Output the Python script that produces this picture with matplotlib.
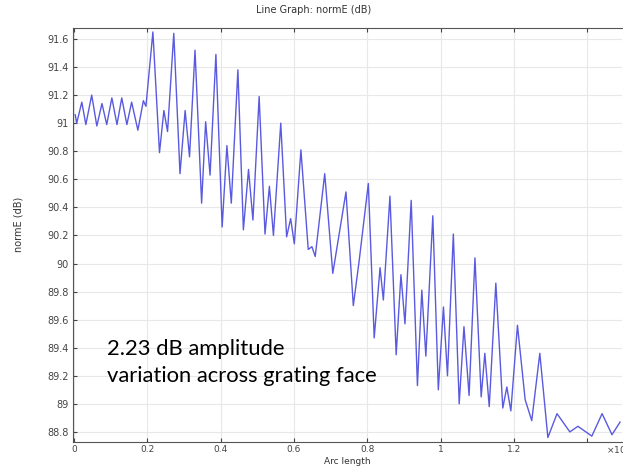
import matplotlib
matplotlib.use("Agg")
import matplotlib.pyplot as plt

# extrema (arc length, normE in dB)
arc_length = [0.003, 0.007, 0.021, 0.032, 0.048, 0.062, 0.076, 0.089, 0.103, 0.117,
              0.130, 0.144, 0.157, 0.174, 0.189, 0.196, 0.215, 0.233, 0.245, 0.255,
              0.272, 0.289, 0.303, 0.315, 0.330, 0.348, 0.359, 0.371, 0.387, 0.404,
              0.417, 0.429, 0.447, 0.462, 0.476, 0.488, 0.505, 0.521, 0.533, 0.544,
              0.564, 0.580, 0.591, 0.601, 0.619, 0.639, 0.649, 0.658, 0.684, 0.706,
              0.742, 0.762, 0.778, 0.803, 0.819, 0.835, 0.844, 0.862, 0.879, 0.892,
              0.903, 0.920, 0.937, 0.949, 0.960, 0.979, 0.994, 1.008, 1.019, 1.035,
              1.051, 1.064, 1.078, 1.094, 1.111, 1.121, 1.133, 1.151, 1.170, 1.181,
              1.192, 1.210, 1.231, 1.249, 1.271, 1.293, 1.318, 1.353, 1.375, 1.413,
              1.441, 1.468, 1.490]
norm_e = [91.06, 91.00, 91.15, 90.99, 91.20, 90.98, 91.14, 90.99, 91.18, 90.99,
          91.18, 90.99, 91.15, 90.95, 91.16, 91.12, 91.65, 90.79, 91.09, 90.94,
          91.64, 90.64, 91.09, 90.76, 91.52, 90.43, 91.01, 90.63, 91.49, 90.26,
          90.84, 90.43, 91.38, 90.24, 90.67, 90.31, 91.19, 90.21, 90.55, 90.20,
          91.00, 90.19, 90.32, 90.14, 90.81, 90.10, 90.12, 90.05, 90.64, 89.93,
          90.51, 89.70, 90.02, 90.57, 89.47, 89.97, 89.74, 90.48, 89.35, 89.92,
          89.57, 90.45, 89.13, 89.81, 89.34, 90.34, 89.10, 89.69, 89.20, 90.21,
          89.00, 89.55, 89.06, 90.04, 89.05, 89.36, 88.98, 89.86, 88.97, 89.12,
          88.95, 89.56, 89.03, 88.88, 89.36, 88.76, 88.93, 88.80, 88.84, 88.77,
          88.93, 88.78, 88.87]

x_ticks = [0, 0.2, 0.4, 0.6, 0.8, 1.0, 1.2, 1.4]
x_labels = ["0", "0.2", "0.4", "0.6", "0.8", "1", "1.2", ""]
y_ticks = [88.8, 89.0, 89.2, 89.4, 89.6, 89.8, 90.0, 90.2, 90.4, 90.6, 90.8, 91.0, 91.2, 91.4, 91.6]
y_labels = ["88.8", "89", "89.2", "89.4", "89.6", "89.8", "90", "90.2", "90.4",
            "90.6", "90.8", "91", "91.2", "91.4", "91.6"]

fig = plt.figure(figsize=(6.23, 4.67), dpi=100)
ax = fig.add_axes([0.1172, 0.0535, 0.881, 0.8865])

ax.plot(arc_length, norm_e, color="#5a5ae0", lw=1.0)

ax.set_xlim(-0.003, 1.495)
ax.set_ylim(88.728, 91.678)
ax.set_xticks(x_ticks)
ax.set_xticklabels(x_labels)
ax.set_yticks(y_ticks)
ax.set_yticklabels(y_labels)
ax.grid(True, color="#e8e8e8", lw=0.8)
ax.tick_params(direction="in", length=3, labelsize=7, colors="#444444",
               top=True, pad=3)
ax.tick_params(axis="x", pad=2, labelsize=6.5)
for side in ["left", "bottom", "top"]:
    ax.spines[side].set_color("#555555")
    ax.spines[side].set_linewidth(0.8)
ax.spines["right"].set_visible(False)

fig.text(0.503, 0.979, "Line Graph: normE (dB)", ha="center", va="center",
         fontsize=7, color="#333333")
fig.text(0.029, 0.52, "normE (dB)", ha="center", va="center", rotation=90,
         fontsize=7, color="#333333")
fig.text(0.557, 0.012, "Arc length", ha="center", va="center",
         fontsize=6.5, color="#333333")
fig.text(0.973, 0.037, "×10$^{-3}$", ha="left", va="center",
         fontsize=6.5, color="#444444")

# annotation, two lines placed separately
fig.text(0.172, 0.2398, "2.23 dB amplitude", ha="left", va="baseline",
         fontsize=15.8, family="Lato", color="black")
fig.text(0.172, 0.182, "variation across grating face", ha="left", va="baseline",
         fontsize=15.8, family="Lato", color="black")

fig.savefig("out.png", dpi=100)
